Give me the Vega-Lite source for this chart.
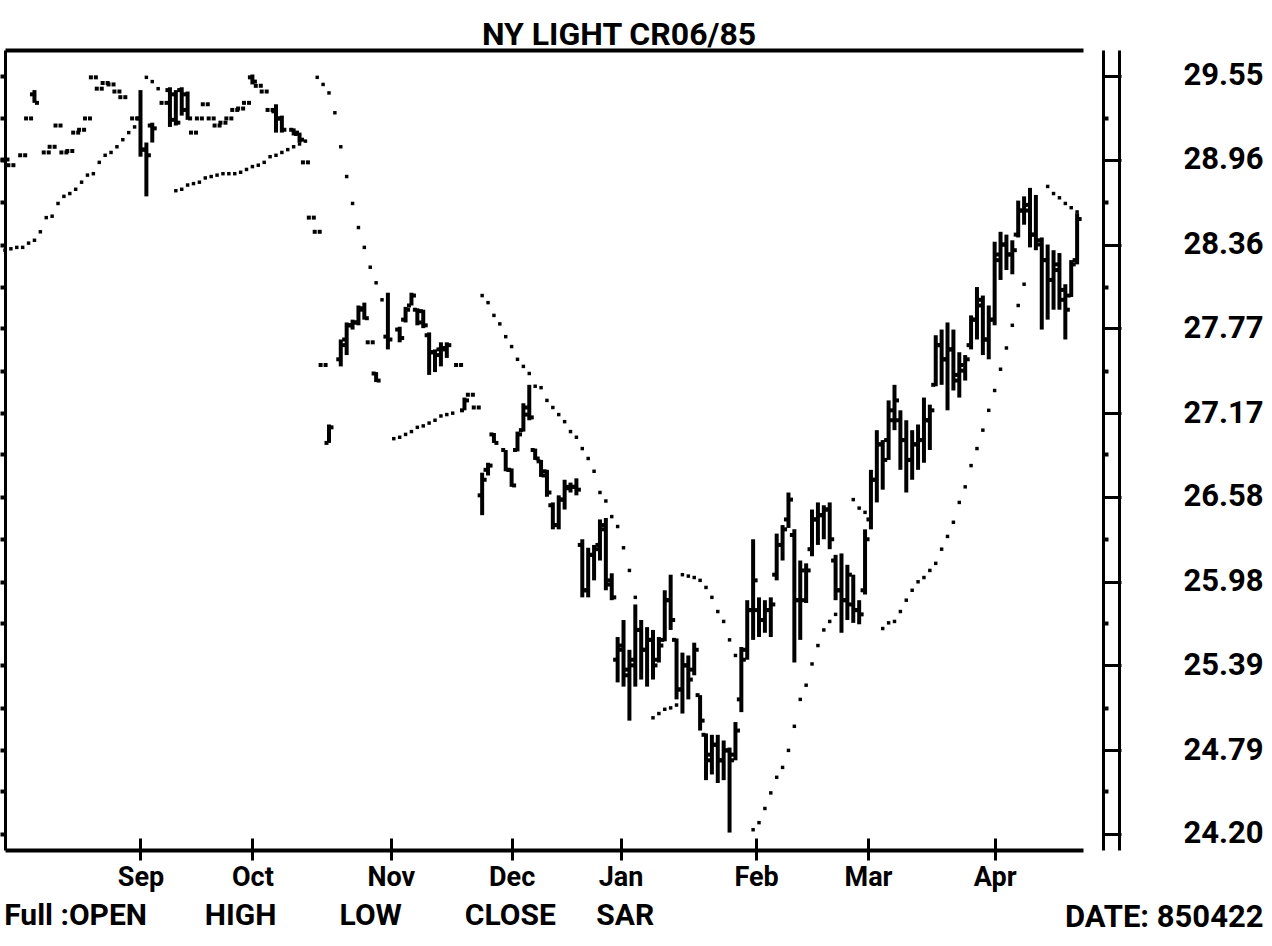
{
"$schema": "https://vega.github.io/schema/vega-lite/v6.json",
"width": 1078,
"height": 800,
"autosize": {"type": "none"},
"padding": {"left": 5, "top": 50, "right": 189, "bottom": 96},
"background": "white",
"title": {"text": "NY LIGHT CR06/85", "anchor": "middle", "frame": "group", "dx": 75, "offset": -27, "baseline": "alphabetic", "font": "Roboto", "fontSize": 32, "fontWeight": "bold", "color": "black"},
"config": {
  "view": {"stroke": null},
  "axis": {"domainColor": "black", "tickColor": "black", "labelColor": "black", "titleColor": "black", "grid": false,
           "labelFont": "Roboto", "labelFontWeight": "bold",
           "titleFont": "Roboto", "titleFontWeight": "bold"}
},
"data": {"values": [
{"i":0,"o":28.96,"h":28.96,"l":28.96,"c":28.96,"s":28.32},
{"i":1,"o":28.92,"h":28.92,"l":28.92,"c":28.92,"s":28.33},
{"i":2,"s":28.34},
{"i":3,"o":28.99,"h":28.99,"l":28.99,"c":28.99,"s":28.34},
{"i":4,"o":29.25,"h":29.25,"l":29.25,"c":29.25,"s":28.37},
{"i":5,"o":29.42,"h":29.45,"l":29.36,"c":29.36,"s":28.39},
{"i":6,"s":28.45},
{"i":7,"o":29.01,"h":29.01,"l":29.01,"c":29.01,"s":28.55},
{"i":8,"o":29.05,"h":29.05,"l":29.05,"c":29.05,"s":28.56},
{"i":9,"o":29.20,"h":29.20,"l":29.20,"c":29.20,"s":28.65},
{"i":10,"o":29.01,"h":29.01,"l":29.01,"c":29.01,"s":28.70},
{"i":11,"o":29.02,"h":29.02,"l":29.02,"c":29.02,"s":28.72},
{"i":12,"o":29.15,"h":29.15,"l":29.15,"c":29.15,"s":28.75},
{"i":13,"o":29.17,"h":29.17,"l":29.17,"c":29.17,"s":28.80},
{"i":14,"o":29.25,"h":29.25,"l":29.25,"c":29.25,"s":28.85},
{"i":15,"o":29.54,"h":29.54,"l":29.54,"c":29.54,"s":28.86},
{"i":16,"o":29.46,"h":29.46,"l":29.46,"c":29.46,"s":28.94},
{"i":17,"o":29.50,"h":29.50,"l":29.50,"c":29.50,"s":28.99},
{"i":18,"o":29.49,"h":29.49,"l":29.49,"c":29.49,"s":29.01},
{"i":19,"o":29.44,"h":29.44,"l":29.44,"c":29.44,"s":29.05},
{"i":20,"o":29.40,"h":29.40,"l":29.40,"c":29.40,"s":29.10},
{"i":21,"s":29.15},
{"i":22,"o":29.25,"h":29.25,"l":29.25,"c":29.25,"s":29.19},
{"i":23,"o":29.25,"h":29.45,"l":28.98,"c":29.03},
{"i":24,"o":29.03,"h":29.08,"l":28.70,"c":28.99,"s":29.54},
{"i":25,"o":29.20,"h":29.22,"l":29.08,"c":29.18,"s":29.51},
{"i":26,"s":29.46},
{"i":27,"o":29.36,"h":29.36,"l":29.36,"c":29.36},
{"i":28,"o":29.45,"h":29.47,"l":29.19,"c":29.24},
{"i":29,"o":29.42,"h":29.45,"l":29.20,"c":29.22,"s":28.74},
{"i":30,"o":29.45,"h":29.47,"l":29.27,"c":29.31,"s":28.75},
{"i":31,"o":29.42,"h":29.44,"l":29.24,"c":29.25,"s":28.78},
{"i":32,"o":29.15,"h":29.15,"l":29.15,"c":29.15,"s":28.79},
{"i":33,"o":29.25,"h":29.25,"l":29.25,"c":29.25,"s":28.80},
{"i":34,"o":29.35,"h":29.35,"l":29.35,"c":29.35,"s":28.83},
{"i":35,"o":29.25,"h":29.25,"l":29.25,"c":29.25,"s":28.84},
{"i":36,"o":29.20,"h":29.20,"l":29.20,"c":29.20,"s":28.85},
{"i":37,"o":29.22,"h":29.22,"l":29.22,"c":29.22,"s":28.86},
{"i":38,"o":29.25,"h":29.25,"l":29.25,"c":29.25,"s":28.86},
{"i":39,"o":29.31,"h":29.31,"l":29.31,"c":29.31,"s":28.86},
{"i":40,"o":29.32,"h":29.32,"l":29.32,"c":29.32,"s":28.87},
{"i":41,"o":29.36,"h":29.36,"l":29.36,"c":29.36,"s":28.89},
{"i":42,"o":29.54,"h":29.56,"l":29.49,"c":29.51,"s":28.91},
{"i":43,"o":29.48,"h":29.48,"l":29.48,"c":29.48,"s":28.92},
{"i":44,"o":29.44,"h":29.44,"l":29.44,"c":29.44,"s":28.94},
{"i":45,"o":29.31,"h":29.31,"l":29.31,"c":29.31,"s":28.98},
{"i":46,"o":29.30,"h":29.35,"l":29.15,"c":29.25,"s":28.99},
{"i":47,"o":29.25,"h":29.27,"l":29.15,"c":29.17,"s":29.01},
{"i":48,"s":29.03},
{"i":49,"o":29.17,"h":29.18,"l":29.13,"c":29.14,"s":29.05},
{"i":50,"o":29.15,"h":29.15,"l":29.08,"c":29.10,"s":29.07},
{"i":51,"o":28.94,"h":28.94,"l":28.94,"c":28.94,"s":29.09},
{"i":52,"o":28.55,"h":28.55,"l":28.55,"c":28.55},
{"i":53,"o":28.45,"h":28.45,"l":28.45,"c":28.45,"s":29.54},
{"i":54,"o":27.51,"h":27.51,"l":27.51,"c":27.51,"s":29.49},
{"i":55,"o":26.96,"h":27.09,"l":26.96,"c":27.07,"s":29.43},
{"i":56,"s":29.29},
{"i":57,"o":27.55,"h":27.69,"l":27.50,"c":27.65,"s":29.05},
{"i":58,"o":27.69,"h":27.81,"l":27.58,"c":27.79,"s":28.84},
{"i":59,"o":27.79,"h":27.83,"l":27.76,"c":27.81,"s":28.65},
{"i":60,"o":27.81,"h":27.93,"l":27.79,"c":27.90,"s":28.48},
{"i":61,"o":27.91,"h":27.95,"l":27.83,"c":27.84,"s":28.34},
{"i":62,"o":27.67,"h":27.67,"l":27.67,"c":27.67,"s":28.20},
{"i":63,"o":27.45,"h":27.46,"l":27.39,"c":27.40,"s":28.09},
{"i":64,"s":27.97},
{"i":65,"o":27.71,"h":28.02,"l":27.62,"c":27.69},
{"i":66,"s":26.99},
{"i":67,"o":27.76,"h":27.78,"l":27.67,"c":27.70,"s":27.00},
{"i":68,"o":27.83,"h":27.92,"l":27.81,"c":27.90,"s":27.02},
{"i":69,"o":27.93,"h":28.02,"l":27.93,"c":28.00,"s":27.04},
{"i":70,"o":27.90,"h":27.91,"l":27.79,"c":27.81,"s":27.07},
{"i":71,"o":27.89,"h":27.90,"l":27.77,"c":27.79,"s":27.08},
{"i":72,"o":27.72,"h":27.74,"l":27.44,"c":27.60,"s":27.10},
{"i":73,"o":27.60,"h":27.62,"l":27.46,"c":27.58,"s":27.12},
{"i":74,"o":27.62,"h":27.67,"l":27.50,"c":27.63,"s":27.15},
{"i":75,"o":27.62,"h":27.67,"l":27.56,"c":27.65,"s":27.16},
{"i":76,"s":27.17},
{"i":77,"o":27.51,"h":27.51,"l":27.51,"c":27.51},
{"i":78,"o":27.19,"h":27.28,"l":27.19,"c":27.26},
{"i":79,"o":27.30,"h":27.30,"l":27.30,"c":27.30},
{"i":80,"o":27.21,"h":27.21,"l":27.21,"c":27.21},
{"i":81,"o":26.59,"h":26.75,"l":26.45,"c":26.70,"s":28.00},
{"i":82,"o":26.77,"h":26.82,"l":26.73,"c":26.80,"s":27.95},
{"i":83,"o":27.02,"h":27.03,"l":26.96,"c":26.96,"s":27.86},
{"i":84,"s":27.80},
{"i":85,"o":26.91,"h":26.91,"l":26.76,"c":26.77,"s":27.71},
{"i":86,"o":26.77,"h":26.78,"l":26.65,"c":26.66,"s":27.64},
{"i":87,"o":26.91,"h":27.04,"l":26.90,"c":27.02,"s":27.55},
{"i":88,"o":27.05,"h":27.24,"l":27.04,"c":27.21,"s":27.50},
{"i":89,"o":27.16,"h":27.37,"l":27.12,"c":27.14,"s":27.45},
{"i":90,"o":26.91,"h":26.92,"l":26.84,"c":26.85,"s":27.36},
{"i":91,"o":26.83,"h":26.84,"l":26.72,"c":26.73,"s":27.35},
{"i":92,"o":26.76,"h":26.77,"l":26.58,"c":26.61,"s":27.26},
{"i":93,"o":26.52,"h":26.54,"l":26.35,"c":26.38,"s":27.21},
{"i":94,"o":26.38,"h":26.59,"l":26.35,"c":26.56,"s":27.16},
{"i":95,"o":26.56,"h":26.70,"l":26.49,"c":26.65,"s":27.11},
{"i":96,"o":26.64,"h":26.68,"l":26.61,"c":26.65,"s":27.04},
{"i":97,"o":26.65,"h":26.71,"l":26.59,"c":26.63,"s":27.00},
{"i":98,"o":26.24,"h":26.28,"l":25.87,"c":25.92,"s":26.92},
{"i":99,"o":25.92,"h":26.22,"l":25.87,"c":26.17,"s":26.85},
{"i":100,"o":26.17,"h":26.24,"l":25.99,"c":26.21,"s":26.76},
{"i":101,"o":26.24,"h":26.42,"l":26.13,"c":26.38,"s":26.61},
{"i":102,"o":26.35,"h":26.43,"l":25.92,"c":25.96,"s":26.55},
{"i":103,"o":25.99,"h":26.04,"l":25.85,"c":25.87,"s":26.44},
{"i":104,"o":25.43,"h":25.59,"l":25.27,"c":25.50,"s":26.37},
{"i":105,"o":25.53,"h":25.71,"l":25.24,"c":25.32,"s":26.22},
{"i":106,"o":25.36,"h":25.50,"l":25.00,"c":25.43,"s":26.06},
{"i":107,"o":25.39,"h":25.82,"l":25.24,"c":25.64,"s":25.87},
{"i":108,"o":25.64,"h":25.71,"l":25.29,"c":25.50},
{"i":109,"o":25.50,"h":25.66,"l":25.24,"c":25.57},
{"i":110,"o":25.57,"h":25.64,"l":25.29,"c":25.39,"s":25.02},
{"i":111,"o":25.43,"h":25.59,"l":25.41,"c":25.53,"s":25.05},
{"i":112,"o":25.57,"h":25.92,"l":25.56,"c":25.85,"s":25.08},
{"i":113,"o":25.85,"h":26.03,"l":25.64,"c":25.71,"s":25.09},
{"i":114,"o":25.57,"h":25.58,"l":25.15,"c":25.22,"s":25.11},
{"i":115,"o":25.22,"h":25.48,"l":25.05,"c":25.39,"s":26.03},
{"i":116,"o":25.39,"h":25.46,"l":25.15,"c":25.29,"s":26.02},
{"i":117,"o":25.36,"h":25.55,"l":25.32,"c":25.50,"s":26.01},
{"i":118,"o":25.18,"h":25.18,"l":24.93,"c":25.00,"s":25.99},
{"i":119,"o":24.90,"h":24.91,"l":24.58,"c":24.72,"s":25.94},
{"i":120,"o":24.76,"h":24.90,"l":24.62,"c":24.83,"s":25.87},
{"i":121,"o":24.83,"h":24.90,"l":24.56,"c":24.72,"s":25.77},
{"i":122,"o":24.72,"h":24.86,"l":24.58,"c":24.79,"s":25.70},
{"i":123,"o":24.79,"h":24.81,"l":24.21,"c":24.72,"s":25.57},
{"i":124,"o":24.76,"h":24.99,"l":24.72,"c":24.93,"s":25.46},
{"i":125,"o":25.15,"h":25.52,"l":25.06,"c":25.43},
{"i":126,"o":25.50,"h":25.85,"l":25.43,"c":25.78},
{"i":127,"o":25.78,"h":26.28,"l":25.57,"c":25.99,"s":24.23},
{"i":128,"o":25.78,"h":25.87,"l":25.59,"c":25.71,"s":24.28},
{"i":129,"o":25.71,"h":25.85,"l":25.62,"c":25.78,"s":24.38},
{"i":130,"o":25.78,"h":25.87,"l":25.59,"c":25.82,"s":24.49},
{"i":131,"o":26.03,"h":26.32,"l":25.99,"c":26.24,"s":24.60},
{"i":132,"o":26.24,"h":26.38,"l":26.13,"c":26.35,"s":24.67},
{"i":133,"o":26.42,"h":26.61,"l":26.36,"c":26.56,"s":24.79},
{"i":134,"o":26.31,"h":26.35,"l":25.41,"c":25.85,"s":24.96},
{"i":135,"o":25.85,"h":26.13,"l":25.57,"c":26.06,"s":25.15},
{"i":136,"o":25.85,"h":26.11,"l":25.83,"c":26.06,"s":25.25},
{"i":137,"o":26.21,"h":26.49,"l":26.16,"c":26.42,"s":25.40},
{"i":138,"o":26.42,"h":26.54,"l":26.24,"c":26.45,"s":25.53},
{"i":139,"o":26.45,"h":26.52,"l":26.28,"c":26.49,"s":25.64},
{"i":140,"o":26.49,"h":26.54,"l":26.21,"c":26.28,"s":25.70},
{"i":141,"o":26.13,"h":26.17,"l":25.85,"c":25.92,"s":25.75},
{"i":142,"o":25.92,"h":26.18,"l":25.62,"c":25.85},
{"i":143,"o":25.85,"h":26.10,"l":25.71,"c":26.03},
{"i":144,"o":25.82,"h":26.03,"l":25.69,"c":25.78,"s":26.56},
{"i":145,"o":25.78,"h":25.85,"l":25.68,"c":25.75,"s":26.50},
{"i":146,"o":25.92,"h":26.35,"l":25.89,"c":26.28,"s":26.47},
{"i":147,"o":26.42,"h":26.77,"l":26.35,"c":26.70},
{"i":148,"o":26.70,"h":27.05,"l":26.54,"c":26.95},
{"i":149,"o":26.95,"h":26.98,"l":26.63,"c":26.84,"s":25.65},
{"i":150,"o":26.98,"h":27.26,"l":26.84,"c":27.19,"s":25.69},
{"i":151,"o":27.12,"h":27.37,"l":27.05,"c":27.26,"s":25.70},
{"i":152,"o":27.12,"h":27.19,"l":26.77,"c":26.98,"s":25.77},
{"i":153,"o":26.98,"h":27.12,"l":26.61,"c":26.84,"s":25.85},
{"i":154,"o":26.84,"h":27.05,"l":26.70,"c":26.95,"s":25.92},
{"i":155,"o":26.95,"h":27.09,"l":26.77,"c":26.98,"s":25.98},
{"i":156,"o":26.98,"h":27.28,"l":26.82,"c":27.12,"s":26.01},
{"i":157,"o":27.12,"h":27.23,"l":26.91,"c":27.19,"s":26.06},
{"i":158,"o":27.37,"h":27.72,"l":27.36,"c":27.65,"s":26.11},
{"i":159,"o":27.65,"h":27.76,"l":27.37,"c":27.55,"s":26.21},
{"i":160,"o":27.55,"h":27.81,"l":27.19,"c":27.62,"s":26.30},
{"i":161,"o":27.62,"h":27.76,"l":27.33,"c":27.40,"s":26.40},
{"i":162,"o":27.44,"h":27.60,"l":27.28,"c":27.51,"s":26.54},
{"i":163,"o":27.47,"h":27.58,"l":27.40,"c":27.55,"s":26.65},
{"i":164,"o":27.65,"h":27.86,"l":27.62,"c":27.83,"s":26.80},
{"i":165,"o":27.83,"h":28.06,"l":27.69,"c":27.97,"s":26.92},
{"i":166,"o":27.93,"h":28.00,"l":27.58,"c":27.69,"s":27.05},
{"i":167,"o":27.69,"h":27.93,"l":27.55,"c":27.83,"s":27.19},
{"i":168,"o":27.83,"h":28.38,"l":27.79,"c":28.29,"s":27.33},
{"i":169,"o":28.25,"h":28.45,"l":28.11,"c":28.36,"s":27.48},
{"i":170,"o":28.36,"h":28.43,"l":28.18,"c":28.29,"s":27.63},
{"i":171,"o":28.29,"h":28.39,"l":28.15,"c":28.32,"s":27.79},
{"i":172,"o":28.43,"h":28.67,"l":28.41,"c":28.60,"s":27.93},
{"i":173,"o":28.60,"h":28.70,"l":28.50,"c":28.64,"s":28.08},
{"i":174,"o":28.60,"h":28.76,"l":28.34,"c":28.43},
{"i":175,"o":28.43,"h":28.71,"l":28.32,"c":28.39},
{"i":176,"o":28.36,"h":28.41,"l":27.76,"c":28.25},
{"i":177,"o":28.25,"h":28.36,"l":27.83,"c":28.11,"s":28.77},
{"i":178,"o":28.11,"h":28.32,"l":27.90,"c":28.18,"s":28.72},
{"i":179,"o":28.22,"h":28.30,"l":27.90,"c":28.04,"s":28.69},
{"i":180,"o":27.97,"h":28.08,"l":27.69,"c":27.90,"s":28.65},
{"i":181,"o":28.00,"h":28.25,"l":27.99,"c":28.22,"s":28.62},
{"i":182,"o":28.25,"h":28.58,"l":28.22,"c":28.54,"s":28.59}
]},
"layer": [
  {
    "mark": {"type": "rule", "strokeWidth": 4, "color": "black"},
    "encoding": {
      "x": {"field": "i", "type": "quantitative", "scale": {"domain": [0, 183], "nice": false, "zero": false},
            "axis": {"orient": "bottom", "values": [23, 42, 65.5, 86, 104.5, 127.5, 146.5, 168],
                     "labelExpr": "datum.value<30?'Sep':datum.value<50?'Oct':datum.value<75?'Nov':datum.value<95?'Dec':datum.value<115?'Jan':datum.value<135?'Feb':datum.value<155?'Mar':'Apr'",
                     "domainWidth": 4, "tickSize": 10, "tickWidth": 3, "labelFontSize": 27, "labelPadding": 4,
                     "labelFlush": false, "labelOverlap": false, "title": null}},
      "y": {"field": "h", "type": "quantitative", "scale": {"domain": [24.087, 29.733], "nice": false, "zero": false},
            "axis": {"orient": "left", "values": [29.55, 29.25, 28.96, 28.66, 28.36, 28.06, 27.77, 27.47, 27.17, 26.88, 26.58, 26.28, 25.98, 25.69, 25.39, 25.09, 24.79, 24.50, 24.20],
                     "labels": false, "tickSize": 5, "tickWidth": 4, "domainWidth": 3, "title": null}},
      "y2": {"field": "l"}
    }
  },
  {
    "mark": {"type": "tick", "orient": "horizontal", "size": 4, "thickness": 4, "xOffset": -2.5, "color": "black", "opacity": 1},
    "encoding": {
      "x": {"field": "i", "type": "quantitative", "scale": {"domain": [0, 183], "nice": false, "zero": false},
            "axis": {"orient": "top", "labels": false, "ticks": false, "domainWidth": 4, "title": null}},
      "y": {"field": "o", "type": "quantitative", "scale": {"domain": [24.087, 29.733], "nice": false, "zero": false},
            "axis": {"orient": "right", "offset": 20, "values": [29.55, 28.96, 28.36, 27.77, 27.17, 26.58, 25.98, 25.39, 24.79, 24.20],
                     "format": ".2f", "tickSize": 18, "tickWidth": 3, "domainWidth": 3, "labelFontSize": 31, "labelPadding": 62,
                     "labelBaseline": "middle", "labelAlign": "left", "labelOverlap": false,
                     "title": "DATE: 850422", "titleAngle": 0, "titleX": 160, "titleY": 867, "titleAlign": "right",
                     "titleBaseline": "middle", "titleFontSize": 31}}
    }
  },
  {
    "mark": {"type": "tick", "orient": "horizontal", "size": 4, "thickness": 4, "xOffset": 2.5, "color": "black", "opacity": 1},
    "encoding": {
      "x": {"field": "i", "type": "quantitative", "scale": {"domain": [0, 183], "nice": false, "zero": false},
            "axis": {"orient": "bottom", "domain": false, "ticks": false, "tickSize": 0, "values": [11.9, 39.9, 62, 85.7, 105.2],
                     "labelExpr": "datum.value<20?'Full :OPEN':datum.value<50?'HIGH':datum.value<70?'LOW':datum.value<95?'CLOSE':'SAR'",
                     "labelFontSize": 30, "labelPadding": 50, "labelFlush": false, "labelOverlap": false, "title": null}},
      "y": {"field": "c", "type": "quantitative", "scale": {"domain": [24.087, 29.733], "nice": false, "zero": false},
            "axis": {"orient": "right", "offset": 36, "labels": false, "ticks": false, "domainWidth": 3, "title": null}}
    }
  },
  {
    "mark": {"type": "point", "shape": "square", "filled": true, "size": 12, "color": "black", "opacity": 1},
    "encoding": {
      "x": {"field": "i", "type": "quantitative", "scale": {"domain": [0, 183], "nice": false, "zero": false},
            "axis": {"orient": "bottom", "values": [23, 42, 65.5, 86, 104.5, 127.5, 146.5, 168], "tickSize": -12, "tickWidth": 3,
                     "labels": false, "domain": false, "title": null}},
      "y": {"field": "s", "type": "quantitative", "scale": {"domain": [24.087, 29.733], "nice": false, "zero": false},
            "axis": {"orient": "right", "offset": 20, "values": [29.25, 28.66, 28.06, 27.47, 26.88, 26.28, 25.69, 25.09, 24.50],
                     "labels": false, "domain": false, "tickSize": 5, "tickWidth": 4, "title": null}}
    }
  }
],
"resolve": {"axis": {"x": "independent", "y": "independent"}}
}
